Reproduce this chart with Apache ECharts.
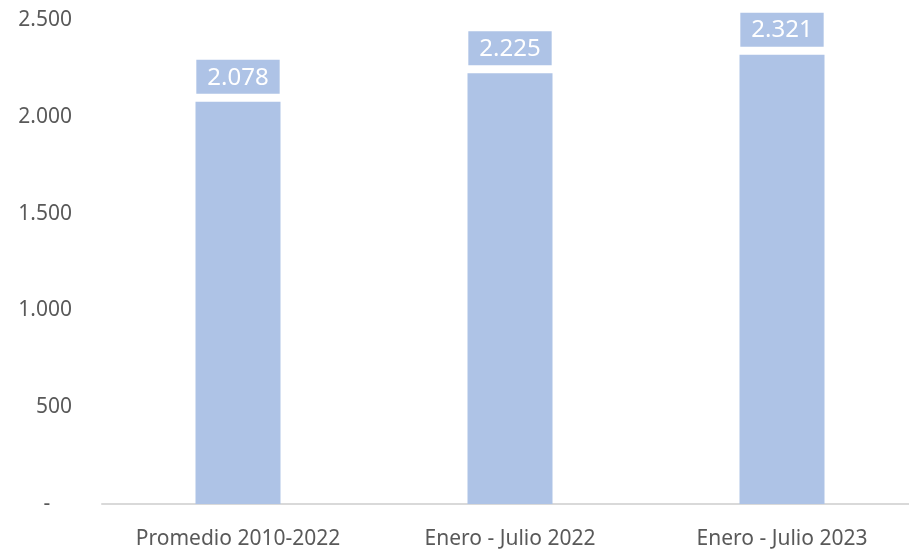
<!DOCTYPE html>
<html><head><meta charset="utf-8">
<script src="https://cdn.jsdelivr.net/npm/echarts@6/dist/echarts.min.js"></script>
<style>html,body{margin:0;padding:0;background:#fff}#c{width:909px;height:549px}</style>
</head><body><div id="c"></div>
<script>
const categories = ["Promedio 2010-2022", "Enero - Julio 2022", "Enero - Julio 2023"];
const values = [2078, 2225, 2321];
const yTicks = {min: 0, max: 2500, interval: 500};

function fmt(v){
  if (v === 0) return '-    ';
  return String(v).replace(/\B(?=(\d{3})+(?!\d))/g, '.');
}
const chart = echarts.init(document.getElementById('c'));
chart.setOption({
  animation: false,
  grid: {left: 102, width: 816, top: 20, bottom: 45, outerBoundsMode: 'none', containLabel: false},
  xAxis: {
    type: 'category', data: categories,
    axisLine: {lineStyle: {color: '#d9d9d9', width: 2}},
    axisTick: {show: false},
    axisLabel: {color: '#595959', fontSize: 21, fontFamily: 'Noto Sans', margin: 25}
  },
  yAxis: {
    type: 'value', min: yTicks.min, max: yTicks.max, interval: yTicks.interval,
    splitLine: {show: false},
    axisLine: {show: false}, axisTick: {show: false},
    axisLabel: {color: '#595959', fontSize: 21, fontFamily: 'Noto Sans', margin: 30, formatter: fmt}
  },
  series: [{
    type: 'bar', data: values, barWidth: 85,
    itemStyle: {color: '#aec3e6'},
    label: {
      show: true, position: 'top', distance: 8,
      color: '#ffffff', fontSize: 24, fontFamily: 'Noto Sans',
      backgroundColor: '#aec3e6', padding: [6, 11, 4, 11],
      formatter: p => fmt(p.value)
    }
  }]
});
</script></body></html>
